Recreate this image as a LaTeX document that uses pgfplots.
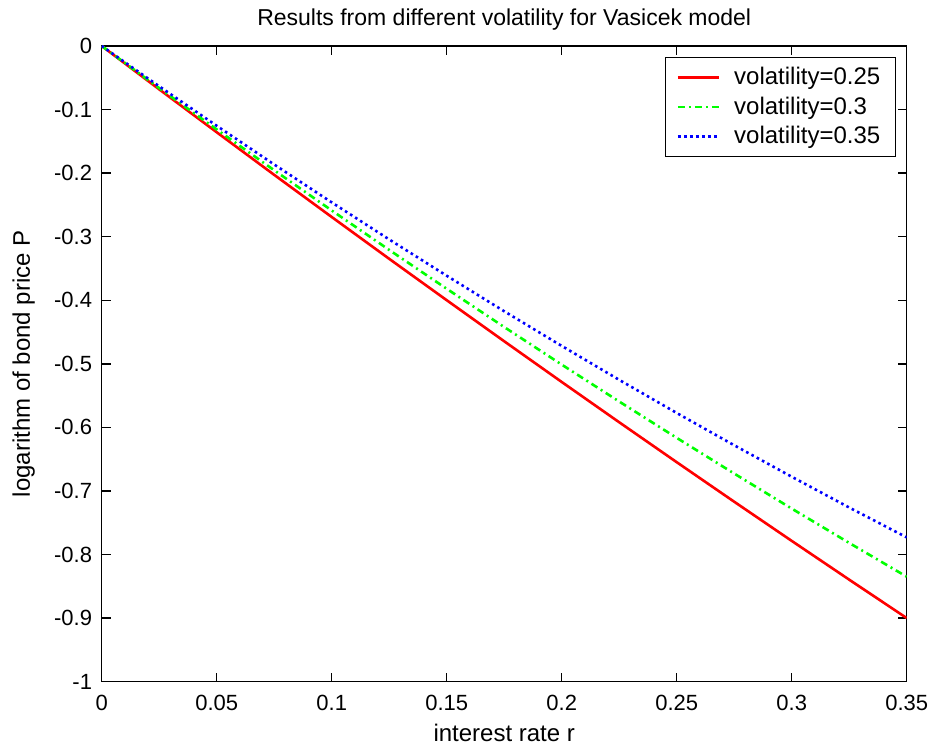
\documentclass[border=0pt]{standalone}
\usepackage{fontspec}
\setmainfont{Liberation Sans}
\usepackage{pgfplots}
\pgfplotsset{compat=1.18}
\usetikzlibrary{calc}
\begin{document}
\begin{tikzpicture}
\begin{axis}[
  scale only axis,
  width=402.5pt, height=317.85pt,
  xmin=0, xmax=0.35, ymin=-1, ymax=0,
  xtick={0,0.05,0.1,0.15,0.2,0.25,0.3,0.35},
  ytick={-1,-0.9,-0.8,-0.7,-0.6,-0.5,-0.4,-0.3,-0.2,-0.1,0},
  xticklabels={0,0.05,0.1,0.15,0.2,0.25,0.3,0.35},
  yticklabels={-1,-0.9,-0.8,-0.7,-0.6,-0.5,-0.4,-0.3,-0.2,-0.1,0},
  tick align=inside,
  major tick length=4.5pt,
  tick style={black, line width=0.7pt},
  axis line style={black, line width=0.7pt},
  font=\fontsize{11}{13}\selectfont,
  ticklabel style={font=\fontsize{11}{13}\selectfont},
  xticklabel style={yshift=-3pt},
  yticklabel style={xshift=-1.3pt},
  title={Results from different volatility for Vasicek model},
  title style={font=\fontsize{11.5}{13}\selectfont, at={(axis description cs:0.5,1.0126)}, anchor=base},
  xlabel={interest rate r},
  ylabel={logarithm of bond price P},
  xlabel style={font=\fontsize{12}{14}\selectfont, at={(axis description cs:0.5,-0.0944)}, anchor=base},
  ylabel style={font=\fontsize{12}{14}\selectfont, at={(axis description cs:-0.0891,0.5)}, anchor=base},
  legend style={at={(0.9867,0.983)}, anchor=north east, draw=black, line width=0.7pt,
    font=\fontsize{12}{14}\selectfont, row sep=0.5pt, column sep=5pt, inner xsep=5.5pt, inner ysep=3pt},
  legend cell align=left,
  legend image code/.code={\draw[#1] (0pt,0pt) -- (20.5pt,0pt);},
]
\addplot[color=red, line width=1.3pt] coordinates {
(0,0) (0.025,-0.0682) (0.05,-0.1357) (0.075,-0.2027) (0.1,-0.2690) (0.125,-0.3348)
(0.15,-0.3999) (0.175,-0.4645) (0.2,-0.5285) (0.225,-0.5919) (0.25,-0.6547)
(0.275,-0.7169) (0.3,-0.7785) (0.325,-0.8395) (0.35,-0.8999)};
\addlegendentry{volatility=0.25}
\addplot[color=green, line width=1.3pt, dash pattern=on 3.5pt off 2pt on 1pt off 2pt] coordinates {
(0,0) (0.025,-0.0662) (0.05,-0.1313) (0.075,-0.1955) (0.1,-0.2587) (0.125,-0.3208)
(0.15,-0.3819) (0.175,-0.4421) (0.2,-0.5012) (0.225,-0.5593) (0.25,-0.6164)
(0.275,-0.6726) (0.3,-0.7277) (0.325,-0.7817) (0.35,-0.8348)};
\addlegendentry{volatility=0.3}
\addplot[color=blue, line width=1.3pt, dash pattern=on 1.3pt off 1.7pt] coordinates {
(0,0) (0.025,-0.0634) (0.05,-0.1255) (0.075,-0.1864) (0.1,-0.2460) (0.125,-0.3043)
(0.15,-0.3614) (0.175,-0.4173) (0.2,-0.4718) (0.225,-0.5252) (0.25,-0.5773)
(0.275,-0.6281) (0.3,-0.6776) (0.325,-0.7260) (0.35,-0.7730)};
\addlegendentry{volatility=0.35}
\end{axis}
\pgfresetboundingbox
\path[use as bounding box] ($(current axis.south west)+(-50.85pt,-32.65pt)$) rectangle ($(current axis.north east)+(13.65pt,23pt)$);
\end{tikzpicture}
\end{document}
